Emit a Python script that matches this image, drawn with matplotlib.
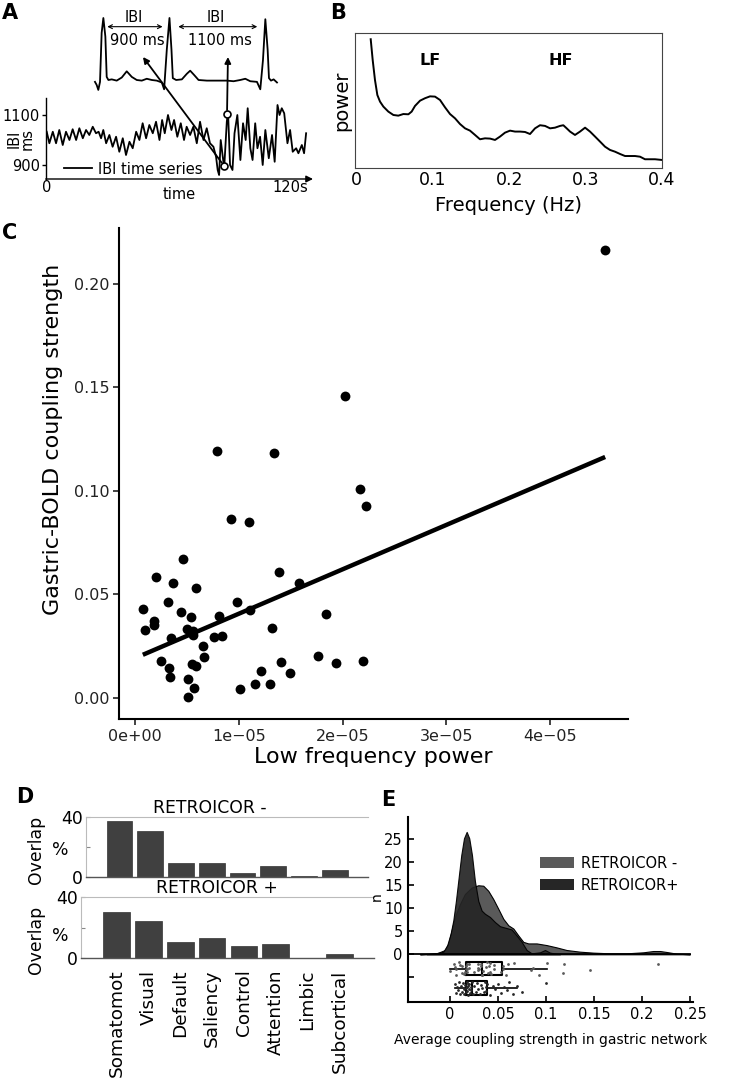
import numpy as np
import matplotlib
matplotlib.use('Agg')
import matplotlib.pyplot as plt
from matplotlib.patches import ConnectionPatch, Patch

W, H = 730, 1082

# ---- A: ECG schematic (s, mV) and IBI time series (s, ms)
ecg_t = [-0.104, -0.081, -0.059, -0.036, -0.014, 0.009, 0.036, 0.054, 0.077, 0.122,
         0.189, 0.257, 0.324, 0.392, 0.459, 0.527, 0.594, 0.662, 0.729, 0.797,
         0.828, 0.864, 0.900, 0.927, 0.945, 0.990, 1.067, 1.134, 1.179, 1.233,
         1.292, 1.404, 1.539, 1.674, 1.764, 1.854, 1.922, 1.989, 2.079, 2.124,
         2.160, 2.192, 2.223, 2.241, 2.268, 2.304, 2.349]
ecg_mv = [-0.03, -0.08, -0.16, -0.03, 0.76, 1.0, 0.70, 0.05, 0.0, 0.01,
          -0.01, 0.04, 0.14, 0.05, 0.0, -0.01, 0.02, 0.0, -0.01, -0.04,
          -0.15, 0.49, 1.0, 0.49, 0.03, 0.0, 0.01, 0.10, 0.15, 0.08,
          0.0, -0.01, -0.01, -0.01, -0.02, 0.0, 0.02, -0.02, -0.03, -0.15,
          0.32, 0.98, 0.49, 0.03, -0.01, 0.01, -0.04]

ibi_t = [0, 1.3, 3.0, 4.6, 6.2, 7.9, 9.5, 11.2, 12.8, 14.5,
         16.1, 17.8, 19.4, 21.0, 22.7, 24.3, 25.6, 26.8, 27.9, 29.3,
         30.9, 32.5, 34.2, 35.8, 37.5, 39.1, 40.8, 42.4, 44.1, 45.7,
         47.3, 49.0, 50.6, 52.3, 53.9, 55.6, 56.9, 58.2, 59.8, 61.5,
         62.8, 64.4, 66.1, 67.7, 69.0, 70.7, 72.3, 74.0, 75.6, 77.3,
         78.9, 80.5, 82.2, 83.5, 84.3, 85.0, 85.8, 86.6, 87.5, 88.8,
         89.4, 90.4, 91.6, 92.6, 94.0, 95.5, 96.8, 98.1, 99.1, 100.4,
         101.5, 102.8, 103.9, 105.2, 106.5, 107.8, 109.5, 111.1, 112.4, 113.8,
         114.8, 115.9, 117.1, 118.7, 120.0, 121.3, 123.0, 124.1, 125.8, 126.9,
         127.9]
ibi_ms = [1033, 987, 1033, 987, 1040, 980, 1033, 1000, 1043, 1000,
          1047, 1007, 1040, 1020, 1053, 1027, 1033, 1007, 1040, 987,
          1020, 973, 1013, 953, 1007, 940, 993, 967, 1033, 1000,
          1067, 1007, 1060, 1027, 1073, 1000, 1080, 1027, 1100, 1040,
          1080, 1013, 1067, 1000, 1053, 1020, 1053, 987, 1073, 1000,
          1047, 987, 973, 933, 880, 860, 1000, 947, 887, 1073,
          1113, 900, 880, 1027, 1100, 920, 1067, 1000, 1127, 967,
          920, 1067, 967, 1013, 900, 1040, 927, 1020, 913, 1140,
          1100, 1127, 1107, 987, 1040, 953, 967, 947, 980, 947,
          1027]
picked_t = [88.9, 87.5]
picked_ms = [1103, 896]
ecg_target_t = [1.688, 0.543]
ecg_target_mv = [0.371, 0.371]

# ---- B: HRV spectrum
hrv_freq = [0.0184, 0.0210, 0.0240, 0.0271, 0.0306, 0.0350, 0.0415, 0.0481, 0.0546, 0.0612,
            0.0678, 0.0721, 0.0765, 0.0831, 0.0896, 0.0962, 0.1027, 0.1093, 0.1158, 0.1224,
            0.1290, 0.1355, 0.1421, 0.1486, 0.1552, 0.1617, 0.1683, 0.1749, 0.1814, 0.1880,
            0.1945, 0.2011, 0.2077, 0.2142, 0.2208, 0.2273, 0.2339, 0.2404, 0.2470, 0.2536,
            0.2601, 0.2667, 0.2710, 0.2754, 0.2798, 0.2863, 0.2929, 0.2995, 0.3060, 0.3126,
            0.3191, 0.3257, 0.3322, 0.3388, 0.3454, 0.3519, 0.3585, 0.3650, 0.3716, 0.3781,
            0.3847, 0.3913, 0.4000]
hrv_power = [0.956, 0.802, 0.654, 0.543, 0.494, 0.457, 0.420, 0.395, 0.390, 0.402,
             0.400, 0.420, 0.462, 0.501, 0.519, 0.533, 0.531, 0.506, 0.452, 0.402,
             0.370, 0.328, 0.296, 0.279, 0.247, 0.215, 0.222, 0.220, 0.210, 0.235,
             0.264, 0.279, 0.272, 0.272, 0.269, 0.254, 0.296, 0.319, 0.314, 0.296,
             0.301, 0.314, 0.319, 0.296, 0.272, 0.247, 0.272, 0.301, 0.272, 0.235,
             0.198, 0.160, 0.136, 0.123, 0.106, 0.091, 0.091, 0.091, 0.086, 0.067,
             0.067, 0.067, 0.062]

# ---- C: low frequency power (x 1e-5) vs gastric-BOLD coupling
lf_power_e5 = [0.785, 1.337, 0.920, 1.096, 0.464, 0.199, 0.368, 0.584, 1.391, 1.583,
               0.074, 0.320, 0.984, 0.439, 0.535, 0.183, 0.183, 0.093, 0.503, 0.557,
               0.554, 0.343, 0.808, 0.759, 0.833, 1.103, 1.321, 1.836, 0.657, 0.666,
               0.250, 0.327, 0.336, 0.551, 0.587, 0.513, 0.564, 0.507, 1.013, 1.151,
               1.208, 1.295, 1.410, 1.493, 1.763, 2.019, 2.171, 2.228, 1.936, 2.196,
               4.530]
coupling = [0.1190, 0.1180, 0.0862, 0.0847, 0.0671, 0.0584, 0.0552, 0.0532, 0.0605, 0.0556,
            0.0428, 0.0463, 0.0460, 0.0415, 0.0389, 0.0371, 0.0349, 0.0326, 0.0333, 0.0323,
            0.0301, 0.0289, 0.0394, 0.0294, 0.0297, 0.0421, 0.0334, 0.0406, 0.0249, 0.0198,
            0.0178, 0.0145, 0.0101, 0.0162, 0.0154, 0.0090, 0.0048, 0.0003, 0.0043, 0.0068,
            0.0129, 0.0068, 0.0174, 0.0121, 0.0201, 0.1460, 0.1010, 0.0926, 0.0169, 0.0177,
            0.2166]
# fitted line as drawn in the figure (coupling = a + b * power/1e-5)
fit_intercept = 0.0191
fit_slope_e5 = 0.02146

# ---- D: overlap with resting-state networks (%)
networks = ['Somatomot', 'Visual', 'Default', 'Saliency', 'Control', 'Attention',
            'Limbic', 'Subcortical']
overlap_minus = [37.1, 30.3, 9.2, 9.0, 2.2, 7.0, 0.45, 4.5]
overlap_plus = [30.4, 24.3, 10.9, 13.6, 8.1, 9.4, 0.4, 3.1]

# ---- E: distributions of average coupling strength
dens_minus_x = [-0.0312, -0.0139, -0.0052, -0.0017, 0.0017, 0.0052, 0.0104, 0.0156, 0.0226, 0.0295,
                0.0347, 0.0399, 0.0451, 0.0503, 0.0556, 0.0608, 0.0660, 0.0712, 0.0764, 0.0816,
                0.0903, 0.1007, 0.1111, 0.1215, 0.1354, 0.1493, 0.1667, 0.1840, 0.2014, 0.2118,
                0.2188, 0.2257, 0.2361, 0.2500]
dens_minus_n = [0, 0.21, 0.93, 2.36, 5.2, 8.1, 10.9, 13.1, 14.5, 15.0,
                14.9, 13.8, 12.0, 9.9, 7.7, 6.3, 5.6, 4.1, 2.7, 2.36,
                2.36, 2.0, 1.5, 0.93, 0.57, 0.36, 0.21, 0.21, 0.43, 0.71,
                0.71, 0.5, 0.14, 0]
dens_plus_x = [-0.0243, -0.0104, -0.0069, -0.0028, 0.0007, 0.0035, 0.0062, 0.0090, 0.0118, 0.0146,
               0.0174, 0.0201, 0.0229, 0.0260, 0.0295, 0.0330, 0.0365, 0.0417, 0.0469, 0.0521,
               0.0590, 0.0642, 0.0694, 0.0747, 0.0799, 0.0851, 0.0938, 0.0990, 0.1042, 0.1146]
dens_plus_n = [0, 0.36, 0.57, 2.0, 4.5, 7.4, 11.6, 16.6, 21.6, 25.2,
               26.6, 25.2, 21.6, 15.9, 11.6, 9.5, 8.8, 8.1, 7.0, 6.1,
               5.7, 5.4, 4.1, 2.7, 0.93, 0.21, 0.43, 0.93, 0.36, 0]
coupling_plus = [0.0052, 0.0062, 0.0075, 0.0088, 0.0098, 0.0108, 0.0118, 0.0127, 0.0135, 0.0143,
                 0.0150, 0.0158, 0.0165, 0.0169, 0.0173, 0.0177, 0.0181, 0.0185, 0.0189, 0.0193,
                 0.0198, 0.0203, 0.0208, 0.0214, 0.0220, 0.0226, 0.0240, 0.0255, 0.0268, 0.0282,
                 0.0295, 0.0310, 0.0325, 0.0338, 0.0350, 0.0362, 0.0372, 0.0380, 0.0384, 0.0420,
                 0.0445, 0.0470, 0.0500, 0.0530, 0.0560, 0.0590, 0.0620, 0.0655, 0.0694, 0.0747,
                 0.1000]
jitter_offsets = [0.9, -1.0, 0.2, -0.4, 1.3, -1.3, 0.5, -0.7, 1.1, -0.1, -1.2,
                  0.7, 0.0, -0.8, 1.4, 0.3, -0.5, 1.0, -1.4, 0.6, -0.2]

GREY_MINUS = '#5a5a5a'
DARK_PLUS = '#262626'
A_FS = 10.5

fig = plt.figure(figsize=(W / 100, H / 100), dpi=100)


def add_px_axes(x0, y0, x1, y1):
    # axes given by its pixel box (top-left origin)
    return fig.add_axes([x0 / W, 1 - y1 / H, (x1 - x0) / W, (y1 - y0) / H])


def panel_label(x, y, s):
    fig.text(x / W, 1 - y / H, s, fontsize=15, fontweight='bold', ha='center', va='center')


# ---------------- A
ax_ecg = add_px_axes(90, 10, 285, 95)
ax_ecg.plot(ecg_t, ecg_mv, color='k', lw=1.3)
ax_ecg.set_xlim(-0.171, 2.457)
ax_ecg.set_ylim(-0.242, 1.129)
ax_ecg.axis('off')
for t0, t1, lab in [(0.062, 0.807, '900 ms'), (1.019, 2.083, '1100 ms')]:
    ax_ecg.annotate('', xy=(t1, 0.86), xytext=(t0, 0.86),
                    arrowprops=dict(arrowstyle='<->', lw=0.8, color='k',
                                    mutation_scale=7, shrinkA=0, shrinkB=0))
    mid = (t0 + t1) / 2
    ax_ecg.text(mid - 0.02, 1.0, 'IBI', ha='center', va='center', fontsize=A_FS)
    ax_ecg.text(mid + 0.03, 0.63, lab, ha='center', va='center', fontsize=A_FS)

ax_ibi = add_px_axes(45.7, 98, 313, 179)
ax_ibi.plot(ibi_t, ibi_ms, color='k', lw=1.3, label='IBI time series')
ax_ibi.plot(picked_t, picked_ms, 'o', mfc='white', mec='k', ms=5, mew=1.2, zorder=5)
ax_ibi.set_xlim(-0.5, 131.3)
ax_ibi.set_ylim(844, 1168)
for s in ['top', 'right', 'bottom']:
    ax_ibi.spines[s].set_visible(False)
ax_ibi.spines['left'].set_linewidth(1.0)
ax_ibi.annotate('', xy=(1, 0), xytext=(0, 0), xycoords='axes fraction',
                arrowprops=dict(arrowstyle='-|>', lw=1.0, color='k', mutation_scale=10,
                                shrinkA=0, shrinkB=0))
ax_ibi.set_yticks([900, 1100])
ax_ibi.set_xticks([0, 120])
ax_ibi.set_xticklabels(['0', '120s'])
ax_ibi.tick_params(axis='y', length=3, width=1, pad=1, labelsize=A_FS)
ax_ibi.tick_params(axis='x', length=0, pad=1, labelsize=A_FS)
ax_ibi.set_xlabel('time', fontsize=A_FS, labelpad=-6)
ax_ibi.set_ylabel('IBI\nms', fontsize=A_FS, linespacing=0.85)
ax_ibi.yaxis.set_label_coords(-0.04, 0.5)
ax_ibi.legend(loc='lower left', bbox_to_anchor=(0.07, 0.03), frameon=False,
              handlelength=1.9, handletextpad=0.4, borderpad=0, borderaxespad=0,
              fontsize=A_FS)
for i in range(len(picked_t)):
    con = ConnectionPatch(xyA=(picked_t[i], picked_ms[i]), coordsA=ax_ibi.transData,
                          xyB=(ecg_target_t[i], ecg_target_mv[i]), coordsB=ax_ecg.transData,
                          arrowstyle='-|>', lw=1.3, color='k', mutation_scale=9,
                          shrinkA=3, shrinkB=0)
    fig.add_artist(con)

# ---------------- B
ax_b = add_px_axes(355, 33.3, 661.7, 168.3)
ax_b.plot(hrv_freq, hrv_power, color='k', lw=1.4)
ax_b.set_xlim(-0.0022, 0.4)
ax_b.set_ylim(0, 1)
ax_b.set_xticks([0, 0.1, 0.2, 0.3, 0.4])
ax_b.set_xticklabels(['0', '0.1', '0.2', '0.3', '0.4'])
ax_b.set_yticks([])
ax_b.tick_params(axis='x', length=0, pad=2, labelsize=12.5)
for s in ax_b.spines.values():
    s.set_linewidth(0.8)
    s.set_color('#444444')
ax_b.set_xlabel('Frequency (Hz)', fontsize=14, labelpad=5)
ax_b.set_ylabel('power', fontsize=14, labelpad=3)
ax_b.text(0.096, 0.80, 'LF', fontsize=11.5, fontweight='bold', ha='center', va='center')
ax_b.text(0.267, 0.80, 'HF', fontsize=11.5, fontweight='bold', ha='center', va='center')

# ---------------- C
lf_power = np.array(lf_power_e5) * 1e-5
coupling_arr = np.array(coupling)
ax_c = add_px_axes(119.3, 228, 628.3, 719.3)
ax_c.scatter(lf_power, coupling_arr, s=50, color='k', lw=0, zorder=3)
xs = np.array([lf_power.min(), lf_power.max()])
ax_c.plot(xs, fit_intercept + fit_slope_e5 * xs / 1e-5, color='k', lw=3.2,
          solid_capstyle='butt')
ax_c.set_xlim(-0.153e-5, 4.753e-5)
ax_c.set_ylim(-0.0105, 0.227)
ax_c.spines['top'].set_visible(False)
ax_c.spines['right'].set_visible(False)
for s in ['left', 'bottom']:
    ax_c.spines[s].set_linewidth(1.5)
ax_c.set_xticks([0, 1e-5, 2e-5, 3e-5, 4e-5])
ax_c.set_xticklabels(['0e+00', '1e\u221205', '2e\u221205', '3e\u221205', '4e\u221205'])
ax_c.set_yticks([0, 0.05, 0.10, 0.15, 0.20])
ax_c.set_yticklabels(['0.00', '0.05', '0.10', '0.15', '0.20'])
ax_c.tick_params(length=4, width=1.2, pad=3, colors='#222222', labelsize=11.5)
ax_c.set_xlabel('Low frequency power', fontsize=16, labelpad=2)
ax_c.set_ylabel('Gastric-BOLD coupling strength', fontsize=16)
ax_c.yaxis.set_label_coords((63 - 119.3) / 509, 0.57)

# ---------------- D
pos = np.arange(len(networks))
d_boxes = [(86, 816.7, 368, 876.7), (81, 897.3, 373.6, 958.3)]
d_first_center = [119.5, 116.7]
d_spacing = [30.74, 31.8]
d_title_x = [0.44, 0.464]
d_label_y = [(850, 850), (940, 936)]   # pixel rows of "Overlap" and "%"
for k, (vals, title) in enumerate([(overlap_minus, 'RETROICOR -'), (overlap_plus, 'RETROICOR +')]):
    box = d_boxes[k]
    ax = add_px_axes(*box)
    ax.bar(pos, vals, width=0.84, color='#404040', edgecolor='#333333', lw=0.5)
    ax.set_xlim((box[0] - d_first_center[k]) / d_spacing[k], 8.08)
    ax.set_ylim(0, 40)
    ax.set_yticks([0, 20, 40])
    ax.set_yticklabels(['0', '', '40'])
    ax.tick_params(axis='y', direction='in', length=3, pad=2, labelsize=12.4, color='#888888')
    ax.spines['right'].set_visible(False)
    for s in ['top', 'left']:
        ax.spines[s].set_color('#bbbbbb')
        ax.spines[s].set_linewidth(0.8)
    ax.spines['bottom'].set_color('#555555')
    ax.spines['bottom'].set_linewidth(1.0)
    t = ax.set_title(title, fontsize=12.4, pad=2)
    t.set_x(d_title_x[k])
    bw, bh = box[2] - box[0], box[3] - box[1]
    ax.text((35.5 - box[0]) / bw, (box[3] - d_label_y[k][0]) / bh, 'Overlap', rotation=90,
            ha='center', va='center', fontsize=12.4, transform=ax.transAxes)
    ax.text((60 - box[0]) / bw, (box[3] - d_label_y[k][1]) / bh, '%',
            ha='center', va='center', fontsize=12.4, transform=ax.transAxes)
    ax.set_xticks(pos)
    if k == 1:
        ax.set_xticklabels(networks, rotation=90, fontsize=13.3, va='top', ha='center')
        ax.tick_params(axis='x', length=0, pad=8)
    else:
        ax.set_xticklabels([])
        ax.tick_params(axis='x', length=0)

# ---------------- E
ax_e = add_px_axes(408.3, 816.7, 693.3, 1001.7)
ax_e.set_xlim(-0.0434, 0.2535)
ax_e.set_ylim(-10.3, 29.9)
ax_e.fill_between(dens_minus_x, dens_minus_n, 0, facecolor=GREY_MINUS, edgecolor='k', lw=0.8, zorder=2)
ax_e.fill_between(dens_plus_x, dens_plus_n, 0, facecolor=DARK_PLUS, alpha=0.93, edgecolor='k', lw=0.8, zorder=3)
ax_e.axhline(0, xmin=0, xmax=(0.25 + 0.0434) / (0.2535 + 0.0434), color='k', lw=1.3, zorder=4)
box_y = [-3.1, -7.4]
ax_e.boxplot([coupling, coupling_plus], positions=box_y, orientation='horizontal', widths=3.0,
             showfliers=False, showcaps=False, whis=1.5,
             boxprops=dict(color='k', lw=1.5), whiskerprops=dict(color='k', lw=1.2),
             medianprops=dict(color='k', lw=1.5), zorder=5)
for vals, yc, col in [(coupling, box_y[0], GREY_MINUS), (coupling_plus, box_y[1], DARK_PLUS)]:
    offs = np.resize(jitter_offsets, len(vals))
    ax_e.scatter(vals, yc + offs, s=4, color=col, lw=0, zorder=6)
ax_e.spines['top'].set_visible(False)
ax_e.spines['right'].set_visible(False)
for s in ['left', 'bottom']:
    ax_e.spines[s].set_linewidth(1.5)
ax_e.set_xticks([0, 0.05, 0.1, 0.15, 0.2, 0.25])
ax_e.set_xticklabels(['0', '0.05', '0.1', '0.15', '0.2', '0.25'])
ax_e.set_yticks([-5, 0, 5, 10, 15, 20, 25])
ax_e.set_yticklabels(['', '0', '5', '10', '15', '20', '25'])
ax_e.tick_params(direction='in', length=4, width=1.2, labelsize=10.5, pad=4)
ax_e.set_xlabel('Average coupling strength in gastric network', fontsize=10, labelpad=8)
ax_e.set_ylabel('n', fontsize=10)
ax_e.yaxis.set_label_coords((384 - 408.3) / 285, 0.57)
handles = [Patch(facecolor=GREY_MINUS, edgecolor='none', label='RETROICOR -'),
           Patch(facecolor=DARK_PLUS, edgecolor='none', label='RETROICOR+')]
ax_e.legend(handles=handles, loc='upper left', bbox_to_anchor=(0.462, 0.79), frameon=False,
            fontsize=10.5, handlelength=2.3, handleheight=0.8, handletextpad=0.5,
            borderpad=0, borderaxespad=0, labelspacing=0.5)

panel_label(10, 13, 'A')
panel_label(338, 13, 'B')
panel_label(10, 233, 'C')
panel_label(25, 797, 'D')
panel_label(388, 800, 'E')

fig.savefig('out.png', dpi=100)
